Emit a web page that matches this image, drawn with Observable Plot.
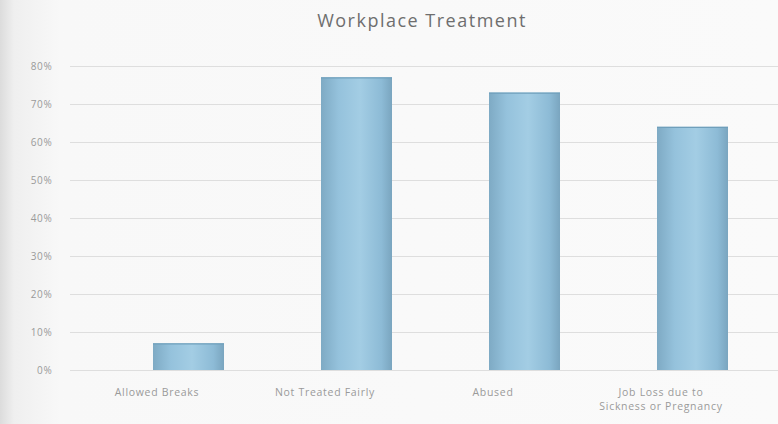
<!DOCTYPE html>
<html><head><meta charset="utf-8">
<script src="https://cdn.jsdelivr.net/npm/d3@7"></script>
<script src="https://cdn.jsdelivr.net/npm/@observablehq/plot@0.6"></script>
<style>
html,body{margin:0;padding:0;}
body{width:778px;height:424px;overflow:hidden;font-family:"Open Sans",Lato,sans-serif;
 background:linear-gradient(90deg,#dcdcdc 0px,#efefef 14px,#f8f8f8 60px,#fafafa 100%);}
#title{height:45px;line-height:40px;text-align:center;padding-left:66px;font-size:18px;color:#6e6e6e;letter-spacing:1.5px;}
#chart svg text{letter-spacing:0.7px;}
</style></head><body>
<div id="title">Workplace Treatment</div>
<div id="chart"></div>
<script>
const categories = ["Allowed Breaks", "Not Treated Fairly", "Abused", "Job Loss due to\nSickness or Pregnancy"];
const values = [7, 77, 73, 64];
const yTicks = [0, 10, 20, 30, 40, 50, 60, 70, 80];

const data = categories.map((c, i) => ({category: c, value: values[i]}));

const chart = Plot.plot({
  width: 778,
  height: 379,
  marginLeft: 70,
  marginRight: 0,
  marginTop: 21,
  marginBottom: 54,
  style: {background: "transparent", fontFamily: "'Open Sans', Lato, sans-serif", fontSize: "10.5px", color: "#9a9a9a"},
  x: {domain: categories, paddingInner: 0.577, paddingOuter: 0.392, align: 0.625, label: null},
  y: {domain: [0, 80], ticks: yTicks, tickFormat: d => d + "%", label: null},
  marks: [
    Plot.gridY(yTicks, {stroke: "#dedede", strokeOpacity: 1, strokeWidth: 1}),
    Plot.axisY(yTicks, {tickSize: 0, tickPadding: 18, tickFormat: d => d + "%", fontSize: 10, label: null}),
    Plot.axisX({tickSize: 0, tickPadding: 15, dx: -32, lineHeight: 1.35, label: null}),
    Plot.barY(data, {x: "category", y: "value", fill: "url(#cyl)"}),
    Plot.tickY(data, {x: "category", y: "value", stroke: "#6f9fbb", strokeWidth: 1.2})
  ]
});

const defs = d3.select(chart).insert("defs", ":first-child");
const g = defs.append("linearGradient").attr("id", "cyl").attr("x1", "0").attr("x2", "1").attr("y1", "0").attr("y2", "0");
g.append("stop").attr("offset", "0%").attr("stop-color", "#7eaac4");
g.append("stop").attr("offset", "25%").attr("stop-color", "#95c2dc");
g.append("stop").attr("offset", "55%").attr("stop-color", "#a3cde4");
g.append("stop").attr("offset", "85%").attr("stop-color", "#8dbbd6");
g.append("stop").attr("offset", "100%").attr("stop-color", "#7aa5bf");

document.getElementById("chart").appendChild(chart);
</script>
</body></html>
